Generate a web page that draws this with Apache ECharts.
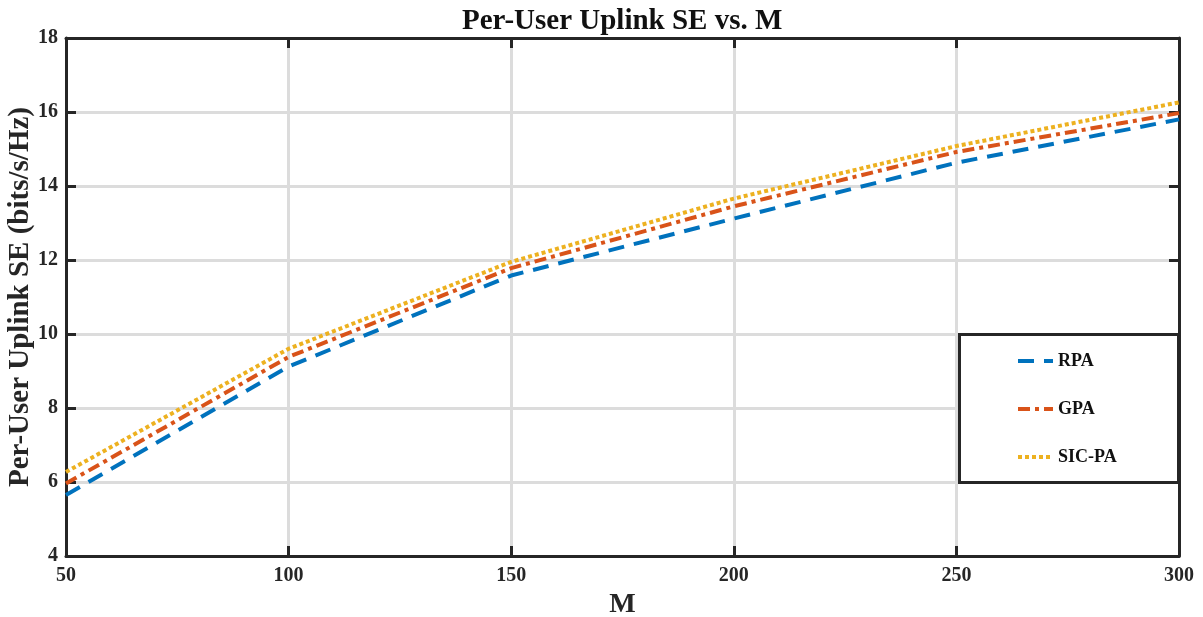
<!DOCTYPE html>
<html>
<head>
<meta charset="utf-8">
<script src="https://cdn.jsdelivr.net/npm/echarts@6/dist/echarts.min.js"></script>
<style>html,body{margin:0;padding:0;background:#fff}#c{width:1203px;height:617px}</style>
</head>
<body>
<div id="c"></div>
<script>
const M = [50, 100, 150, 200, 250, 300];
const RPA = [5.65, 9.12, 11.58, 13.12, 14.63, 15.8];
const GPA = [5.96, 9.38, 11.78, 13.45, 14.92, 15.97];
const SICPA = [6.27, 9.6, 11.95, 13.66, 15.08, 16.26];
const seriesNames = ['RPA', 'GPA', 'SIC-PA'];
const xTicks = [50, 100, 150, 200, 250, 300];
const yTicks = [4, 6, 8, 10, 12, 14, 16, 18];

const FONT = '"Liberation Serif", "Times New Roman", serif';
const chart = echarts.init(document.getElementById('c'), null, {renderer: 'canvas'});
const pairs = v => M.map((m, i) => [m, v[i]]);
const axisCommon = {
  axisLine: {show: true, lineStyle: {color: '#262626', width: 3}},
  axisTick: {show: true, inside: true, length: 10, lineStyle: {color: '#262626', width: 3}},
};
chart.setOption({
  animation: false,
  backgroundColor: '#fff',
  title: {
    text: 'Per-User Uplink SE vs. M', left: 457, top: 2,
    textStyle: {fontFamily: FONT, fontWeight: 'bold', fontSize: 29, color: '#111'}
  },
  grid: {left: 66, right: 24, top: 38, bottom: 61, containLabel: false, outerBoundsMode: 'none'},
  legend: {
    orient: 'vertical', left: 1016, top: 351, padding: 0, itemGap: 28, itemWidth: 35, itemHeight: 14,
    z: 20,
    itemStyle: {opacity: 0},
    lineStyle: {width: 4},
    textStyle: {fontFamily: FONT, fontWeight: 'bold', fontSize: 18, color: '#111', lineHeight: 20},
    data: seriesNames
  },
  graphic: [{
    type: 'rect', left: 958, top: 333, z: 10,
    shape: {width: 219, height: 148},
    style: {fill: '#fff', stroke: '#262626', lineWidth: 3}
  }],
  xAxis: [{
    type: 'value', min: xTicks[0], max: xTicks[xTicks.length - 1], interval: 50,
    name: 'M', nameLocation: 'middle', nameGap: 35, nameMoveOverlap: false,
    nameTextStyle: {fontFamily: FONT, fontWeight: 'bold', fontSize: 28, color: '#262626'},
    axisLabel: {fontFamily: FONT, fontWeight: 'bold', fontSize: 20, color: '#262626', margin: 10},
    splitLine: {show: true, lineStyle: {color: '#dcdcdc', width: 3}},
    ...axisCommon
  }, {
    type: 'value', position: 'top', min: xTicks[0], max: xTicks[xTicks.length - 1], interval: 50,
    axisLabel: {show: false}, splitLine: {show: false}, ...axisCommon
  }],
  yAxis: [{
    type: 'value', min: yTicks[0], max: yTicks[yTicks.length - 1], interval: 2,
    name: 'Per-User Uplink SE (bits/s/Hz)', nameLocation: 'middle', nameGap: 31, nameMoveOverlap: false,
    nameTextStyle: {fontFamily: FONT, fontWeight: 'bold', fontSize: 29, color: '#262626'},
    axisLabel: {fontFamily: FONT, fontWeight: 'bold', fontSize: 20, color: '#262626', margin: 8},
    splitLine: {show: true, lineStyle: {color: '#dcdcdc', width: 3}},
    ...axisCommon
  }, {
    type: 'value', position: 'right', min: yTicks[0], max: yTicks[yTicks.length - 1], interval: 2,
    axisLabel: {show: false}, splitLine: {show: false}, ...axisCommon
  }],
  series: [
    {name: 'RPA', type: 'line', data: pairs(RPA), showSymbol: false, symbol: 'none',
     color: '#0072BD', lineStyle: {width: 4, type: [16, 10], cap: 'butt'}, z: 3},
    {name: 'GPA', type: 'line', data: pairs(GPA), showSymbol: false, symbol: 'none',
     color: '#D95319', lineStyle: {width: 4, type: [12, 5, 4, 5], cap: 'butt'}, z: 4},
    {name: 'SIC-PA', type: 'line', data: pairs(SICPA), showSymbol: false, symbol: 'none',
     color: '#EDB120', lineStyle: {width: 4, type: [4, 3], cap: 'butt'}, z: 5}
  ]
});
</script>
</body>
</html>
